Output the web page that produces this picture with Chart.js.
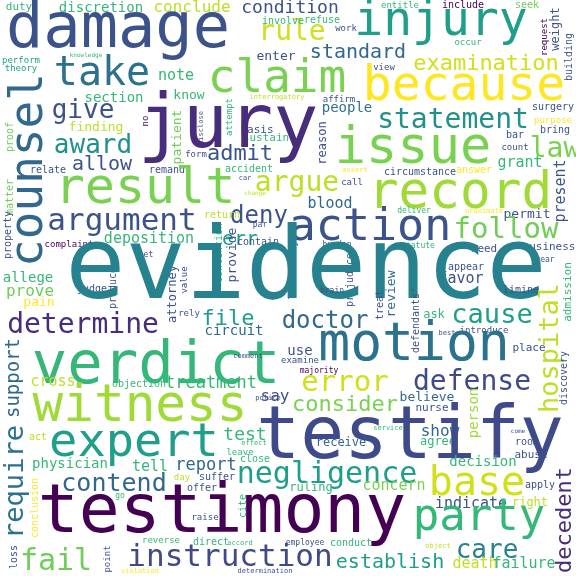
<!DOCTYPE html>
<html>
<head>
<meta charset="utf-8">
<script src="https://cdn.jsdelivr.net/npm/chart.js@4"></script>
<style>
  html, body { margin: 0; padding: 0; background: #fff; }
  #wrap { width: 576px; height: 576px; }
</style>
</head>
<body>
<div id="wrap"><canvas id="cloud" width="576" height="576"></canvas></div>
<script>
// viridis shades used by the cloud
const palette = {
  P: '#440154', Q: '#472d7b', R: '#3e4a89', B: '#3b528b', T: '#31688e', U: '#2c728e',
  V: '#26828e', W: '#21918c', X: '#1f9e89', G: '#35b779', H: '#6ece58', I: '#7ad151',
  J: '#a0da39', K: '#bddf26', L: '#d0e11c', Y: '#fde725'
};

// [word, x, baseline y, size, colour key, vertical]
const topLeft = [
  ['duty', 19, 10, 11, 'G', 0], ['discretion', 101, 12, 14, 'G', 0], ['conclude', 192, 12, 16, 'K', 0],
  ['damage', 118, 47, 62, 'B', 0], ['counsel', 30, 170, 46, 'T', 1], ['perform', 21, 63, 9, 'X', 0],
  ['theory', 21, 71, 9, 'X', 0], ['knowledge', 86, 57, 6, 'G', 0], ['take', 102, 85, 40, 'U', 0],
  ['give', 83, 118, 26, 'B', 0], ['award', 93, 153, 26, 'W', 0], ['allow', 102, 170, 20, 'B', 0],
  ['note', 176, 80, 15, 'G', 0], ['section', 114, 102, 14, 'G', 0], ['know', 189, 99, 13, 'G', 0],
  ['finding', 96, 131, 13, 'K', 0], ['patient', 178, 137, 13, 'H', 1], ['no', 146, 121, 9, 'P', 1],
  ['admit', 240, 160, 22, 'B', 0], ['relate', 48, 173, 10, 'B', 0], ['form', 196, 157, 9, 'B', 0],
  ['accident', 249, 172, 10, 'G', 0], ['remand', 167, 173, 10, 'B', 0], ['matter', 10, 197, 10, 'H', 1],
  ['proof', 10, 137, 10, 'H', 1], ['attempt', 230, 117, 9, 'G', 1], ['disclose', 201, 128, 7, 'B', 1],
  ['basis', 257, 133, 11, 'B', 0], ['sustain', 266, 141, 11, 'G', 0], ['interrogatory', 277, 99, 7, 'K', 0],
  ['result', 145, 203, 50, 'I', 0], ['argue', 297, 191, 28, 'K', 0], ['car', 245, 180, 7, 'B', 0],
  ['change', 255, 195, 6, 'K', 0], ['deny', 259, 223, 24, 'B', 0], ['argument', 122, 230, 31, 'B', 0],
  ['err', 240, 245, 20, 'X', 0], ['return', 222, 218, 10, 'K', 0], ['par', 260, 227, 8, 'B', 0],
  ['deposition', 149, 243, 15, 'G', 0], ['property', 8, 235, 10, 'B', 1], ['complaint', 69, 247, 9, 'P', 0],
  ['contain', 258, 245, 10, 'B', 0], ['contention', 219, 253, 10, 'G', 1], ['provide', 233, 255, 13, 'B', 1],
  ['set', 146, 257, 8, 'B', 0], ['allege', 28, 282, 14, 'G', 0], ['attorney', 173, 294, 12, 'B', 1],
  ['judge', 92, 292, 10, 'B', 0], ['produce', 113, 288, 10, 'B', 1], ['value', 185, 280, 9, 'B', 1]
];

const topRight = [
  ['condition', 290, 13, 18, 'B', 0], ['rule', 292, 40, 28, 'L', 0], ['enter', 276, 60, 13, 'B', 0],
  ['involve', 283, 24, 10, 'G', 0], ['refuse', 322, 23, 10, 'G', 0], ['work', 346, 31, 9, 'B', 0],
  ['injury', 441, 35, 48, 'X', 0], ['entitle', 400, 8, 9, 'G', 0], ['include', 463, 8, 10, 'P', 0],
  ['seek', 527, 8, 10, 'H', 0], ['request', 545, 37, 9, 'P', 1], ['weight', 556, 29, 12, 'B', 1],
  ['occur', 468, 45, 9, 'G', 0], ['building', 569, 57, 10, 'B', 1], ['standard', 358, 58, 20, 'T', 0],
  ['examination', 486, 70, 22, 'L', 0], ['claim', 277, 92, 46, 'I', 0], ['view', 384, 70, 9, 'B', 0],
  ['because', 464, 100, 48, 'Y', 0], ['affirm', 339, 102, 9, 'B', 0], ['people', 347, 112, 14, 'U', 0],
  ['statement', 453, 128, 28, 'W', 0], ['surgery', 553, 110, 10, 'B', 0], ['purpose', 553, 123, 9, 'Y', 0],
  ['bring', 555, 133, 10, 'B', 0], ['reason', 323, 143, 12, 'B', 1], ['issue', 413, 163, 52, 'I', 0],
  ['law', 555, 157, 28, 'I', 0], ['bar', 515, 138, 10, 'B', 0], ['count', 515, 150, 9, 'B', 0],
  ['grant', 520, 167, 15, 'G', 0], ['jury', 228, 147, 75, 'Q', 0], ['present', 561, 191, 15, 'B', 1],
  ['assert', 355, 172, 7, 'Y', 0], ['circumstance', 420, 175, 10, 'B', 0], ['answer', 474, 173, 10, 'Y', 0],
  ['call', 352, 185, 9, 'B', 0], ['record', 460, 208, 51, 'J', 0], ['blood', 330, 208, 15, 'T', 0],
  ['permit', 527, 218, 13, 'B', 0], ['action', 370, 240, 45, 'B', 0], ['follow', 506, 238, 29, 'H', 0],
  ['deliver', 414, 213, 8, 'G', 0], ['proximate', 484, 213, 7, 'Y', 0], ['burden', 337, 247, 8, 'B', 0],
  ['statute', 418, 248, 8, 'G', 0], ['need', 484, 252, 11, 'B', 0], ['business', 549, 250, 11, 'B', 0],
  ['year', 545, 262, 8, 'B', 0], ['admission', 568, 292, 11, 'G', 1], ['appear', 466, 270, 10, 'B', 0],
  ['favor', 461, 283, 15, 'B', 0], ['review', 392, 294, 13, 'T', 1], ['prejudice', 350, 280, 10, 'B', 1],
  ['liability', 293, 270, 11, 'B', 1]
];

const bottomRight = [
  ['evidence', 306, 298, 100, 'V', 0], ['brain', 332, 293, 8, 'B', 0], ['limine', 521, 293, 10, 'B', 0],
  ['doctor', 325, 328, 24, 'T', 0], ['treat', 380, 305, 10, 'B', 1], ["defendants'", 416, 320, 10, 'B', 1],
  ['ask', 434, 318, 12, 'G', 0], ['cause', 492, 323, 27, 'X', 0], ['introduce', 484, 333, 9, 'B', 0],
  ['best', 447, 335, 7, 'B', 0], ['hospital', 551, 348, 27, 'K', 1], ['discovery', 564, 378, 10, 'B', 1],
  ['motion', 414, 360, 53, 'U', 0], ['place', 529, 351, 11, 'B', 0], ['use', 300, 355, 14, 'B', 0],
  ['examine', 300, 363, 9, 'B', 0], ['majority', 319, 373, 8, 'P', 0], ['error', 345, 391, 29, 'L', 0],
  ['defense', 472, 390, 28, 'R', 0], ['consider', 345, 411, 22, 'I', 0], ['believe', 427, 401, 13, 'T', 0],
  ['nurse', 432, 411, 11, 'B', 0], ['person', 474, 413, 14, 'J', 1], ['show', 440, 436, 16, 'T', 0],
  ['agree', 438, 445, 12, 'G', 0], ['receive', 341, 446, 12, 'T', 0], ['service', 388, 430, 7, 'G', 0],
  ['testify', 410, 458, 73, 'R', 0], ['room', 527, 445, 10, 'B', 0], ['come', 518, 433, 6, 'B', 0],
  ['abuse', 531, 458, 11, 'B', 0], ['decision', 483, 466, 14, 'G', 0], ['decedent', 565, 520, 22, 'Q', 1],
  ['negligence', 327, 483, 30, 'X', 0], ['base', 477, 495, 40, 'L', 0], ['concern', 394, 490, 15, 'I', 0],
  ['ruling', 311, 491, 12, 'G', 0], ['apply', 540, 488, 10, 'B', 0], ['indicate', 471, 508, 15, 'B', 0],
  ['right', 530, 506, 12, 'K', 0], ['party', 479, 530, 44, 'G', 0], ['care', 487, 558, 26, 'V', 0],
  ['employee', 305, 545, 8, 'B', 0], ['conduct', 351, 546, 10, 'G', 0], ['object', 438, 548, 7, 'K', 0],
  ['establish', 390, 568, 20, 'X', 0], ['death', 475, 568, 15, 'K', 0], ['failure', 524, 568, 15, 'G', 0],
  ['testimony', 222, 532, 68, 'P', 0]
];

const bottomLeft = [
  ['prove', 30, 296, 16, 'H', 0], ['pain', 39, 306, 13, 'Y', 0], ['determine', 83, 333, 28, 'Q', 0],
  ['file', 228, 325, 22, 'X', 0], ['circuit', 234, 335, 14, 'T', 0], ['rely', 189, 316, 9, 'B', 0],
  ['verdict', 156, 383, 59, 'G', 0], ['comment', 248, 358, 7, 'B', 0], ['support', 14, 378, 19, 'T', 1],
  ['cross', 53, 386, 15, 'K', 0], ['objection', 139, 387, 10, 'G', 0], ['treatment', 211, 388, 17, 'G', 0],
  ['say', 275, 401, 16, 'B', 0], ['police', 268, 400, 7, 'B', 0], ['witness', 140, 421, 51, 'J', 0],
  ['expert', 134, 456, 47, 'X', 0], ['test', 245, 440, 18, 'G', 0], ['act', 38, 440, 10, 'K', 0],
  ['effect', 254, 445, 7, 'G', 0], ['leave', 240, 455, 9, 'G', 0], ['close', 255, 462, 10, 'G', 0],
  ['require', 16, 482, 27, 'U', 1], ['physician', 70, 468, 14, 'G', 0], ['tell', 150, 471, 15, 'G', 0],
  ['report', 206, 470, 17, 'T', 0], ['contend', 114, 491, 25, 'T', 0], ['day', 182, 480, 9, 'K', 0],
  ['suffer', 217, 480, 10, 'B', 0], ['offer', 202, 491, 10, 'B', 0], ['go', 120, 498, 8, 'G', 0],
  ['conclusion', 35, 508, 10, 'Y', 1], ['cite', 243, 506, 10, 'G', 1], ['raise', 205, 520, 9, 'B', 0],
  ['reverse', 161, 543, 9, 'G', 0], ['direct', 211, 545, 10, 'G', 0], ['accord', 240, 545, 7, 'G', 0],
  ['fail', 56, 570, 30, 'H', 0], ['loss', 14, 557, 10, 'B', 1], ['point', 108, 559, 9, 'B', 1],
  ['instruction', 230, 566, 31, 'R', 0], ['violation', 140, 573, 7, 'Y', 0], ['determination', 265, 573, 7, 'B', 0]
];

const allWords = [...topLeft, ...topRight, ...bottomRight, ...bottomLeft];

const wordPlugin = {
  id: 'wordLabels',
  afterDatasetsDraw(chart) {
    const c = chart.ctx;
    const meta = chart.getDatasetMeta(0);
    meta.data.forEach((pt, i) => {
      const w = allWords[i];
      c.save();
      c.translate(pt.x, pt.y);
      c.font = w[3] + 'px "DejaVu Sans Mono", monospace';
      c.fillStyle = palette[w[4]];
      c.textAlign = 'center';
      if (w[5]) {
        c.rotate(-Math.PI / 2);
        c.textBaseline = 'middle';
      } else {
        c.textBaseline = 'alphabetic';
      }
      c.fillText(w[0], 0, 0);
      c.restore();
    });
  }
};

new Chart(document.getElementById('cloud').getContext('2d'), {
  type: 'scatter',
  data: {
    datasets: [{
      data: allWords.map(w => ({ x: w[1], y: w[2] })),
      pointRadius: 0,
      pointHoverRadius: 0
    }]
  },
  options: {
    responsive: false,
    animation: false,
    layout: { padding: 0 },
    plugins: { legend: { display: false }, tooltip: { enabled: false } },
    scales: {
      x: { type: 'linear', min: 0, max: 576, display: false },
      y: { type: 'linear', min: 0, max: 576, reverse: true, display: false }
    }
  },
  plugins: [wordPlugin]
});
</script>
</body>
</html>
